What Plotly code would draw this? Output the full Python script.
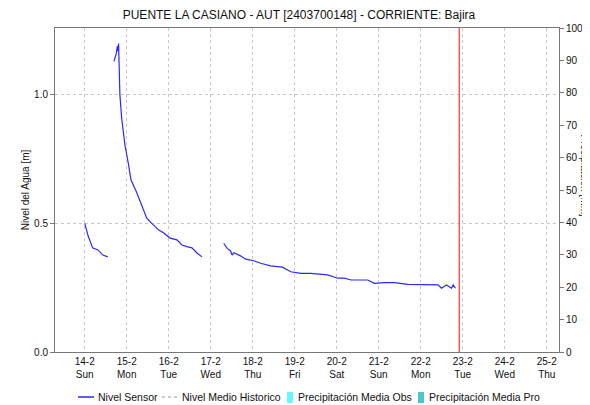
import plotly.graph_objects as go

# Nivel Sensor, three segments (gaps between them)
seg1_t = ["2021-02-14 00:00", "2021-02-14 02:00", "2021-02-14 04:30", "2021-02-14 07:30",
          "2021-02-14 10:20", "2021-02-14 13:10"]
seg1_v = [0.50, 0.45, 0.405, 0.397, 0.377, 0.37]

seg2_t = ["2021-02-14 16:40", "2021-02-14 18:00", "2021-02-14 18:40", "2021-02-14 19:00",
          "2021-02-14 19:20", "2021-02-14 20:05", "2021-02-14 21:05", "2021-02-14 22:58",
          "2021-02-15 00:52", "2021-02-15 02:24", "2021-02-15 05:41", "2021-02-15 08:33",
          "2021-02-15 11:26", "2021-02-15 14:18", "2021-02-15 18:05", "2021-02-15 20:57",
          "2021-02-16 00:48", "2021-02-16 04:39", "2021-02-16 07:31", "2021-02-16 10:23",
          "2021-02-16 13:16", "2021-02-16 16:08", "2021-02-16 19:00"]
seg2_v = [1.13, 1.16, 1.19, 1.17, 1.20, 1.00, 0.91, 0.805,
          0.735, 0.67, 0.62, 0.572,
          0.52, 0.50, 0.475, 0.464,
          0.443, 0.436, 0.416, 0.41,
          0.405, 0.385, 0.37]

seg3_t = ["2021-02-17 07:25", "2021-02-17 09:22", "2021-02-17 11:15", "2021-02-17 12:14",
          "2021-02-17 13:09", "2021-02-17 17:00", "2021-02-17 19:52", "2021-02-18 00:37",
          "2021-02-18 04:29", "2021-02-18 10:13", "2021-02-18 16:56", "2021-02-18 21:42",
          "2021-02-19 03:27", "2021-02-19 09:11", "2021-02-19 18:46", "2021-02-20 00:31",
          "2021-02-20 04:19", "2021-02-20 08:10", "2021-02-20 17:44", "2021-02-20 21:32",
          "2021-02-21 03:16", "2021-02-21 09:00", "2021-02-21 16:42", "2021-02-22 02:14",
          "2021-02-22 09:56", "2021-02-22 11:50", "2021-02-22 14:41", "2021-02-22 17:34",
          "2021-02-22 18:33", "2021-02-22 19:52"]
seg3_v = [0.423, 0.403, 0.394, 0.377,
          0.386, 0.374, 0.361, 0.355,
          0.345, 0.335, 0.33, 0.312,
          0.306, 0.306, 0.30, 0.287,
          0.287, 0.28, 0.28, 0.267,
          0.27, 0.27, 0.263, 0.261,
          0.261, 0.248, 0.261, 0.248,
          0.261, 0.248]

now_t = "2021-02-22 22:00"

tick_dates = ["2021-02-%02d" % d for d in range(14, 26)]
tick_text = ["14-2<br>Sun", "15-2<br>Mon", "16-2<br>Tue", "17-2<br>Wed", "18-2<br>Thu",
             "19-2<br>Fri", "20-2<br>Sat", "21-2<br>Sun", "22-2<br>Mon", "23-2<br>Tue",
             "24-2<br>Wed", "25-2<br>Thu"]

legend_names = ["Nivel Sensor", "Nivel Medio Historico",
                "Precipitación Media Obs", "Precipitación Media Pro"]

font = "Liberation Sans, Arial, sans-serif"
blue = "#2a2aff"
grey_line = "#777777"

# the page body has an 8px margin, so the figure is sized to fit the window
OFF = 8
W, H = 590 - OFF, 405 - OFF
PL, PR, PT, PB = 55, 559, 28, 352   # plot area in window pixels

fig = go.Figure()

x_all = seg1_t + [None] + seg2_t + [None] + seg3_t
y_all = seg1_v + [None] + seg2_v + [None] + seg3_v
fig.add_trace(go.Scatter(x=x_all, y=y_all, mode="lines", name=legend_names[0],
                         line=dict(color=blue, width=1.2), connectgaps=False))
fig.add_trace(go.Scatter(x=[None], y=[None], mode="lines", name=legend_names[1],
                         line=dict(color="#bbbbbb", width=1.5, dash="dot")))
fig.add_trace(go.Bar(x=[None], y=[None], name=legend_names[2],
                     marker=dict(color="#66f6ff", line=dict(width=0)), yaxis="y2"))
fig.add_trace(go.Bar(x=[None], y=[None], name=legend_names[3],
                     marker=dict(color="#4cc8c8", line=dict(width=0)), yaxis="y2"))

fig.add_shape(type="line", xref="x", yref="paper", x0=now_t, x1=now_t, y0=0, y1=1,
              line=dict(color="#ff3030", width=1.2))

# hand-placed legend (window pixels -> paper coords)
def px(x):
    return (x - PL) / float(PR - PL)

def py(y):
    return (PB - y) / float(PB - PT)

ly = 397
fig.add_shape(type="line", xref="paper", yref="paper", x0=px(78), x1=px(94), y0=py(ly), y1=py(ly),
              line=dict(color=blue, width=1.5))
fig.add_shape(type="line", xref="paper", yref="paper", x0=px(162), x1=px(177), y0=py(ly), y1=py(ly),
              line=dict(color="#bbbbbb", width=1.5, dash="dot"))
fig.add_shape(type="rect", xref="paper", yref="paper", x0=px(287), x1=px(293), y0=py(403), y1=py(392),
              line=dict(width=0), fillcolor="#66f6ff")
fig.add_shape(type="rect", xref="paper", yref="paper", x0=px(418), x1=px(424), y0=py(403), y1=py(392),
              line=dict(width=0), fillcolor="#4cc8c8")
for name, x0 in zip(legend_names, [96, 180, 296, 427]):
    fig.add_annotation(text=name, xref="paper", yref="paper", x=px(x0), y=py(ly),
                       xanchor="left", yanchor="middle", showarrow=False,
                       font=dict(size=10.5, color="#111111"))

fig.update_layout(
    width=W, height=H,
    margin=dict(l=PL - OFF, r=W - (PR - OFF), t=PT - OFF, b=H - (PB - OFF), autoexpand=False),
    paper_bgcolor="white", plot_bgcolor="white",
    font=dict(family=font, size=10, color="#111111"),
    title=dict(text="PUENTE LA CASIANO - AUT [2403700148] - CORRIENTE: Bajira",
               x=0.5, xanchor="center", y=1 - (15 - OFF) / float(H), yref="container",
               yanchor="middle", font=dict(size=12, color="#111111")),
    showlegend=False,
    xaxis=dict(type="date", range=["2021-02-13 07:00", "2021-02-25 07:00"],
               tickvals=tick_dates, ticktext=tick_text, ticks="",
               showgrid=True, gridcolor="#c8c8c8", griddash="dot", gridwidth=1,
               showline=True, linecolor=grey_line, linewidth=1, mirror=True,
               zeroline=False, tickfont=dict(size=10)),
    yaxis=dict(range=[0, 1.26], tickvals=[0, 0.5, 1.0], ticktext=["0.0", "0.5", "1.0"],
               ticks="outside", ticklen=4, tickcolor=grey_line,
               showgrid=True, gridcolor="#c8c8c8", griddash="dot",
               showline=True, linecolor=grey_line, zeroline=False,
               title=dict(text="Nivel del Agua [m]", font=dict(size=10), standoff=2),
               tickfont=dict(size=10)),
    yaxis2=dict(range=[0, 100], overlaying="y", side="right", dtick=10,
                ticks="outside", ticklen=4, tickcolor=grey_line,
                showgrid=False, showline=True, linecolor=grey_line, zeroline=False,
                tickfont=dict(size=10)),
    bargap=0,
)

fig.add_annotation(text="Precipitacion [mm]", xref="paper", yref="paper",
                   x=px(592), y=py(175), xanchor="right", yanchor="middle", textangle=90,
                   showarrow=False, font=dict(size=10, color="#111111"))

fig.write_html("out.html")
